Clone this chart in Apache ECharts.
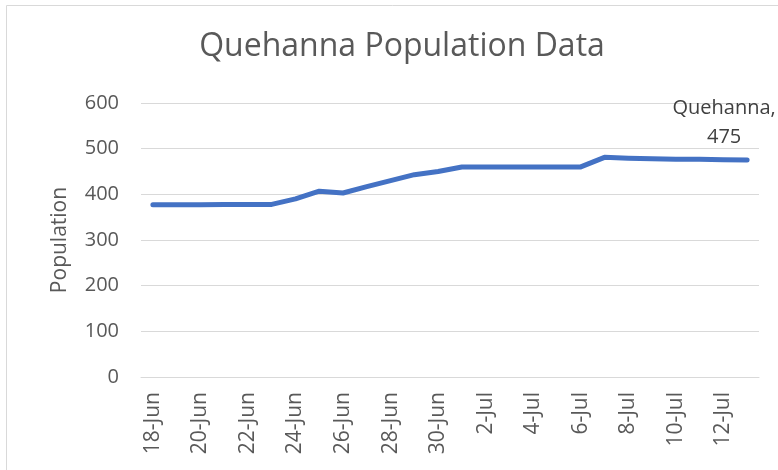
<!DOCTYPE html>
<html>
<head>
<meta charset="utf-8">
<script src="https://cdn.jsdelivr.net/npm/echarts@6/dist/echarts.min.js"></script>
<style>
  html, body { margin: 0; padding: 0; background: #fff; }
  #chart { width: 778px; height: 470px; }
</style>
</head>
<body>
<div id="chart"></div>
<script>
  // dates on the x axis (one point per day)
  var days = [
    '18-Jun', '19-Jun', '20-Jun', '21-Jun', '22-Jun', '23-Jun', '24-Jun', '25-Jun', '26-Jun',
    '27-Jun', '28-Jun', '29-Jun', '30-Jun', '1-Jul', '2-Jul', '3-Jul', '4-Jul', '5-Jul',
    '6-Jul', '7-Jul', '8-Jul', '9-Jul', '10-Jul', '11-Jul', '12-Jul', '13-Jul'
  ]
  // Quehanna population
  var population = [
    377, 377, 377, 378, 378, 378, 390, 407, 403,
    417, 430, 443, 450, 460, 460, 460, 460, 460,
    460, 481, 479, 478, 477, 477, 476, 475
  ]
  var seriesName = 'Quehanna'
  var chartTitle = 'Quehanna Population Data'
  var yName = 'Population'

  var chart = echarts.init(document.getElementById('chart'))

  //只给最后一个点加标签
  var data = population.map(function (v, i) {
    if (i === population.length - 1) {
      return { value: v, label: { show: true } }
    }
    return v
  })

  var option = {
    animation: false,
    title: {
      text: chartTitle,
      left: 397,
      textAlign: 'center',
      top: 26,
      textStyle: {
        fontFamily: 'Open Sans',
        fontSize: 32,
        fontWeight: 'normal',
        color: '#595959',
      },
    },
    graphic: [
      {
        type: 'rect',
        shape: { x: 6.5, y: 5.5, width: 800, height: 500 },
        style: { fill: 'none', stroke: '#d9d9d9', lineWidth: 1 },
        silent: true,
      },
    ],
    grid: { left: 141, right: 19, top: 103, bottom: 93 },
    xAxis: {
      type: 'category',
      data: days,
      boundaryGap: true,
      axisLine: { show: true, lineStyle: { color: '#d9d9d9', width: 1 } },
      axisTick: { show: false },
      axisLabel: {
        interval: 1,
        rotate: 90,
        margin: 15,
        fontFamily: 'Open Sans',
        fontSize: 21,
        color: '#595959',
      },
    },
    yAxis: {
      type: 'value',
      min: 0,
      max: 600,
      interval: 100,
      name: yName,
      nameLocation: 'middle',
      nameGap: 70,
      nameRotate: 90,
      nameTextStyle: {
        fontFamily: 'Open Sans',
        fontSize: 21,
        color: '#595959',
      },
      axisLine: { show: false },
      axisTick: { show: false },
      axisLabel: {
        margin: 22,
        fontFamily: 'Open Sans',
        fontSize: 20,
        color: '#595959',
      },
      splitLine: { lineStyle: { color: '#d9d9d9', width: 1 } },
    },
    series: [
      {
        name: seriesName,
        type: 'line',
        data: data,
        showSymbol: true,
        symbolSize: 0,
        lineStyle: { color: '#4472c4', width: 5, cap: 'round', join: 'round' },
        itemStyle: { color: '#4472c4' },
        label: {
          show: false,
          position: 'top',
          distance: 8,
          offset: [-23, 0],
          formatter: function (p) {
            return p.seriesName + ',\n' + p.value
          },
          fontFamily: 'Open Sans',
          fontSize: 20,
          lineHeight: 29,
          align: 'center',
          color: '#404040',
        },
      },
    ],
  }
  chart.setOption(option)
</script>
</body>
</html>
